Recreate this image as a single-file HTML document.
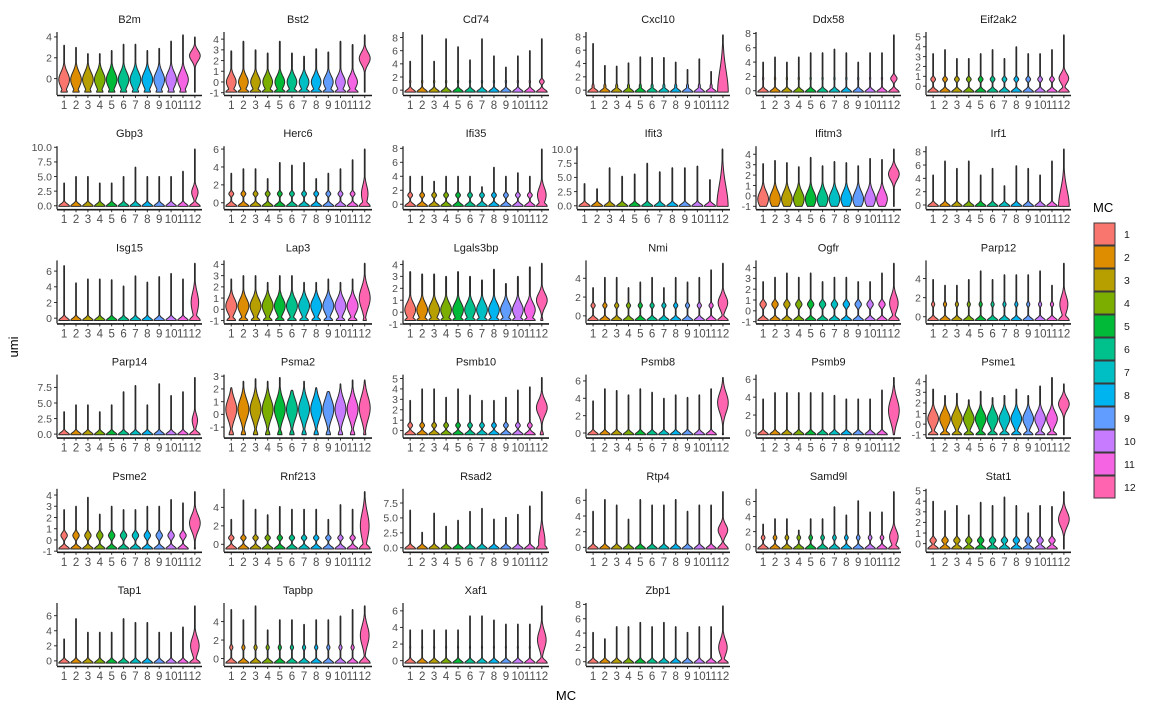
<!DOCTYPE html>
<html><head><meta charset="utf-8"><style>
html,body{margin:0;padding:0;background:#fff;}
svg{display:block;font-family:"Liberation Sans",sans-serif;}
</style></head><body>
<svg id="chart" width="1152" height="711" viewBox="0 0 1152 711" xmlns="http://www.w3.org/2000/svg">
<rect x="0" y="0" width="1152" height="711" fill="#fff"/>
<g id="panels"></g>
<text x="18" y="347" transform="rotate(-90 18 347)" text-anchor="middle" font-size="13" fill="#000">umi</text>
<text x="566" y="700" text-anchor="middle" font-size="13" fill="#000">MC</text>
<g id="legend"></g>
</svg>
<script>
const genes = ["B2m","Bst2","Cd74","Cxcl10","Ddx58","Eif2ak2","Gbp3","Herc6","Ifi35","Ifit3","Ifitm3","Irf1","Isg15","Lap3","Lgals3bp","Nmi","Ogfr","Parp12","Parp14","Psma2","Psmb10","Psmb8","Psmb9","Psme1","Psme2","Rnf213","Rsad2","Rtp4","Samd9l","Stat1","Tap1","Tapbp","Xaf1","Zbp1"];
const clusters = ["1","2","3","4","5","6","7","8","9","10","11","12"];
const colors = ["#F8766D","#DE8C00","#B79F00","#7CAE00","#00BA38","#00C08B","#00BFC4","#00B4F0","#619CFF","#C77CFF","#F564E3","#FF64B0"];
// max value (violin tip) per gene per cluster
const tops = [
[3.2,3.0,2.4,2.4,2.7,3.3,3.3,2.7,2.9,3.6,4.2,4.0],
[2.9,3.8,3.0,2.7,3.8,2.7,2.4,3.1,2.8,3.8,3.5,4.4],
[4.4,8.4,4.4,7.8,6.6,4.6,7.8,5.2,3.5,5.2,6.0,7.8],
[7.0,3.7,3.6,4.1,5.0,4.9,4.9,4.2,3.1,4.7,2.8,8.3],
[4.0,4.7,4.0,4.7,5.3,5.3,5.8,5.3,4.0,5.3,5.3,7.8],
[3.3,3.7,2.8,2.8,3.3,3.7,2.8,4.0,3.3,3.3,3.7,5.2],
[3.9,5.0,5.0,3.9,3.9,5.0,6.6,5.0,5.0,5.0,5.9,9.7],
[3.3,3.8,3.8,2.7,4.5,4.2,4.5,2.7,3.3,3.8,4.8,6.0],
[4.0,4.0,3.3,4.0,4.0,4.0,2.5,5.3,4.0,4.5,4.0,7.9],
[3.9,3.0,6.7,5.2,5.6,7.5,6.0,6.7,6.7,7.0,4.6,10.0],
[3.1,3.4,3.2,2.8,3.7,2.9,3.3,3.2,2.9,3.6,3.5,4.5],
[4.5,6.6,5.5,6.6,4.5,5.5,2.9,5.9,5.5,4.5,6.6,8.4],
[6.7,4.5,5.0,5.0,4.9,4.1,5.4,4.6,5.3,5.7,5.0,7.0],
[2.7,3.0,3.0,2.4,3.0,3.0,2.4,2.4,2.7,2.4,2.7,4.1],
[3.4,3.2,3.2,3.0,3.4,3.0,2.7,3.6,2.4,3.0,3.8,4.1],
[3.0,4.1,4.1,3.0,3.6,4.1,3.0,4.1,3.6,4.1,4.9,5.6],
[2.7,3.1,3.5,3.1,3.5,2.7,3.1,3.1,2.7,2.7,3.5,4.4],
[3.9,3.3,3.3,3.9,4.8,3.9,4.4,4.4,4.4,4.8,3.3,5.6],
[3.6,4.7,4.7,3.6,4.7,6.8,7.8,4.7,8.1,6.2,6.8,9.1],
[2.1,2.6,2.8,2.6,2.9,1.9,2.6,2.1,1.8,2.4,2.7,2.7],
[2.9,4.0,4.0,3.2,4.0,3.4,2.9,2.9,3.2,3.9,4.2,5.1],
[3.7,5.1,4.9,4.4,5.1,4.7,4.0,4.4,4.1,4.4,5.1,6.4],
[3.8,4.5,4.5,4.5,4.5,4.5,4.2,3.8,3.8,3.8,4.8,6.2],
[3.3,2.7,2.9,2.3,3.1,2.5,2.7,3.3,2.7,3.6,4.4,3.8],
[2.7,3.0,3.8,2.3,3.0,2.7,2.7,3.0,3.0,3.6,3.3,4.3],
[2.7,4.8,3.8,3.2,4.1,3.8,3.8,3.8,2.7,4.3,3.8,5.7],
[6.3,2.6,5.8,3.6,4.6,6.1,6.6,4.8,5.1,5.6,7.0,9.4],
[4.6,6.1,5.4,3.6,6.1,5.4,5.4,6.1,4.6,5.4,5.4,7.1],
[3.0,3.7,3.7,2.2,3.7,3.7,5.3,4.2,6.1,4.6,4.6,7.3],
[4.0,3.1,3.6,2.7,3.9,3.6,4.4,3.6,2.9,3.6,3.5,4.9],
[2.9,5.6,3.8,3.8,3.8,5.6,5.1,5.1,3.8,3.8,4.5,7.3],
[5.3,4.2,5.7,3.1,4.2,4.2,3.7,4.2,4.2,4.6,5.3,5.7],
[3.7,3.7,3.7,3.7,3.7,5.4,5.4,4.9,4.4,4.4,4.4,6.6],
[4.1,3.2,4.9,4.9,5.5,4.9,5.5,4.9,4.1,4.9,4.9,7.8]];
// minimum value per gene
const floors = [-1.3,-0.95,-0.3,-0.3,-0.2,-0.6,-0.1,-0.4,-0.3,-0.1,-1,-0.2,-0.3,-1,-0.7,-0.5,-0.9,-0.4,-0.1,-1.6,-0.4,-0.2,-0.2,-1,-0.8,-0.5,-0.2,-0.2,-0.3,-0.5,-0.3,-0.5,-0.3,-0.2];
// shape for clusters 1-11: [floorWidth, floorSd, mode, modeWidth, modeSd]
const shapes = [
[.6,.4,-0.1,1,1.0],[.9,.3,0,.8,.8],[1,.2,1.3,.12,.2],[1,.2,.6,.2,.2],[1,.2,1.7,.12,.2],[1,.25,.7,.45,.25],
[1,.25,2.3,.06,.3],[1,.25,1,.45,.25],[1,.25,1.3,.45,.25],[1,.25,1.8,.05,.3],[.6,.3,-0.3,1,1],[1,.2,1.6,.06,.2],
[1,.2,.8,.06,.2],[.8,.3,.3,1,.9],[.8,.3,.2,.8,.8],[1,.25,1.1,.4,.25],[1,.3,.6,.6,.35],[1,.25,1.3,.3,.25],
[1,.25,2.1,.05,.3],[.4,.4,.4,1,1.1],[1,.25,.5,.45,.25],[1,.2,3,0,1],[1,.2,3,0,1],[.8,.25,.5,.9,.9],
[1,.25,.4,.6,.35],[1,.25,.7,.5,.25],[1,.2,1,.05,.2],[1,.2,2,.06,.2],[1,.25,1.2,.35,.25],[1,.25,.3,.6,.3],
[1,.2,1.7,.06,.2],[1,.25,1.2,.3,.25],[1,.2,1.6,.1,.2],[1,.2,1.9,.06,.2]];
// shape for cluster 12
const shapes12 = [
[.05,.3,2.2,1,.7],[.05,.3,2.2,1,.8],[1,.3,1.3,.45,.3],[1,4.5,4,0,1],[1,.5,1.7,.6,.5],[1,.4,.8,.9,.7],
[1,.6,2.3,.6,1.2],[1,.5,1,.6,1.3],[1,.6,1.3,.8,1.5],[1,5,1.8,0,1],[.05,.3,2.1,1,.8],[1,3.5,0,0,1],
[1,.6,2,.7,1.8],[.3,.3,1,1,1.3],[.2,.3,1,1,.8],[1,.4,1.4,.9,1],[1,.4,.7,.8,1],[1,.5,1.3,.75,1.2],
[1,.6,2.2,.5,1.3],[.2,.4,.5,1,1.3],[.3,.4,2.2,1,1.0],[.1,.3,3.5,1,1.6],[.1,.3,2.5,1,1.8],[.05,.3,1.9,1,.8],
[.1,.3,1.5,1,1],[1,.5,2,.8,2],[1,.8,1,.6,2.5],[1,.6,2.2,.9,1],[1,.5,1.3,.8,1.2],[.05,.3,2.3,1,1],
[1,.5,2,.8,1.5],[1,.5,2.5,.8,1.5],[1,.5,2.5,.8,1.5],[1,.5,2,.8,1.5]];
const yTicks = [[0,2,4],[-1,0,1,2,3,4],[0,2,4,6,8],[0,2,4,6,8],[0,2,4,6,8],[0,1,2,3,4,5],
[0,2.5,5,7.5,10],[0,2,4,6],[0,2,4,6,8],[0,2.5,5,7.5,10],[-1,0,1,2,3,4],[0,2,4,6,8],
[0,2,4,6],[-1,0,1,2,3,4],[-1,0,1,2,3,4],[0,2,4],[-1,0,1,2,3,4],[0,2,4],
[0,2.5,5,7.5],[-1,0,1,2,3],[0,1,2,3,4,5],[0,2,4,6],[0,2,4,6],[-1,0,1,2,3,4],
[-1,0,1,2,3,4],[0,2,4],[0,2.5,5,7.5],[0,2,4,6],[0,2,4,6],[0,1,2,3,4,5],
[0,2,4,6],[0,2,4],[0,2,4,6],[0,2,4,6,8]];

const NS = "http://www.w3.org/2000/svg";
const colLeft = [57,224,403,586,756,926];
const colRight = [202,372,549,730,901,1071];
const root = document.getElementById("panels");
function mk(tag, attrs, parent){const e=document.createElementNS(NS,tag);for(const k in attrs)e.setAttribute(k,attrs[k]);parent.appendChild(e);return e;}

genes.forEach((g, gi) => {
  const row = Math.floor(gi/6), col = gi%6;
  let L = colLeft[col]; if (g==="Ifit3") L = 577;
  const R = colRight[col];
  const B = 95 + 114.2*row, T = B - 63;
  const grp = mk("g", {}, root);
  
  
  const fl = floors[gi];
  const hi0 = Math.max(...tops[gi]);
  const rng = hi0 - fl;
  const lo = fl - 0.05*rng, hi = hi0 + 0.05*rng;
  const ys = v => B - (v - lo)/(hi - lo)*(B - T);
  const step = (R - L)/12.2;
  const xs = k => L + (k + 0.6)*step;
  const hw = 0.45*step;
  const title = mk("text", {x:(L+R)/2, y:B-72, "text-anchor":"middle", "font-size":"11", fill:"#1a1a1a"}, grp);
  title.textContent = g;
  
  
  const dec = yTicks[gi].some(t => t % 1 !== 0);
  yTicks[gi].forEach(t => {
    const y = ys(t);
    mk("line", {x1:L-3, x2:L, y1:y, y2:y, stroke:"#333", "stroke-width":"1"}, grp);
    const tl = mk("text", {x:L-5, y:y+3.8, "text-anchor":"end", "font-size":"10.5", fill:"#4d4d4d"}, grp);
    tl.textContent = dec ? t.toFixed(1) : String(t);
    
    
  });
  clusters.forEach((c, k) => {
    const sh = k === 11 ? shapes12[gi] : shapes[gi];
    const fsd = Math.max(sh[1], 0.06*rng), msd = Math.max(sh[4], 0.045*rng);
    const top = tops[gi][k];
    const N = 70; const ws = []; const yv = [];
    for (let i=0;i<=N;i++){
      const v = fl + (top - fl)*i/N;
      let w = Math.max(sh[0]*Math.exp(-Math.pow((v-fl)/fsd,2)), sh[3]*Math.exp(-Math.pow((v-sh[2])/msd,2)), 0.07);
      if (i===N) w = 0.04;
      ws.push(w); yv.push(v);
    }
    const mx = Math.max(...ws);
    const cx = xs(k);
    let pts = [];
    for (let i=0;i<=N;i++) pts.push((cx - ws[i]/mx*hw).toFixed(2)+","+ys(yv[i]).toFixed(2));
    for (let i=N;i>=0;i--) pts.push((cx + ws[i]/mx*hw).toFixed(2)+","+ys(yv[i]).toFixed(2));
    const p = mk("polygon", {points:pts.join(" "), fill:colors[k], stroke:"#2b2b2b", "stroke-width":"1", "stroke-linejoin":"round"}, grp);
    
    
    mk("line", {x1:cx, x2:cx, y1:B, y2:B+3, stroke:"#333", "stroke-width":"1"}, grp);
    const xl = mk("text", {x:cx, y:B+14, "text-anchor":"middle", "font-size":"11.5", fill:"#4d4d4d"}, grp);
    xl.textContent = c;
    
    
  });
  const ya = mk("line", {x1:L, x2:L, y1:T, y2:B, stroke:"#1a1a1a", "stroke-width":"1.2"}, grp);
  
  
  const xa = mk("line", {x1:L, x2:R, y1:B+0.5, y2:B+0.5, stroke:"#1a1a1a", "stroke-width":"1.6"}, grp);
  
  
});

const leg = document.getElementById("legend");
const lt = mk("text", {x:1093, y:212, "font-size":"13", fill:"#000"}, leg);
lt.textContent = "MC";


clusters.forEach((c, k) => {
  const y = 223 + k*23;
  const r = mk("rect", {x:1094, y:y, width:21, height:22, fill:colors[k], stroke:"#3a3a3a", "stroke-width":"1"}, leg);
  
  
  const t = mk("text", {x:1124, y:y+15, "font-size":"10.5", fill:"#1a1a1a"}, leg);
  t.textContent = c;
  
  
});
</script>
</body></html>
